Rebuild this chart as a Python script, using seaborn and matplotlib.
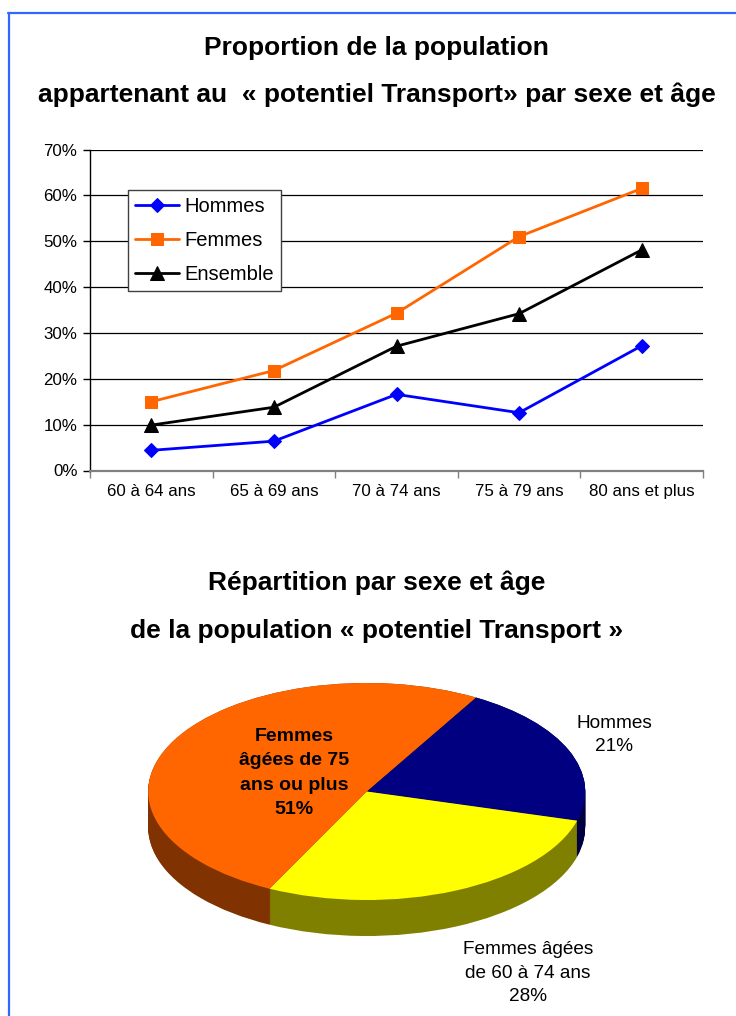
import numpy as np
import pandas as pd
import matplotlib
matplotlib.use("Agg")
import matplotlib.pyplot as plt
from matplotlib.lines import Line2D
import seaborn as sns

# ---- data -------------------------------------------------------------
ages = ["60 à 64 ans", "65 à 69 ans", "70 à 74 ans", "75 à 79 ans", "80 ans et plus"]
hommes = [4.4, 6.4, 16.6, 12.6, 27.2]
femmes = [15.0, 21.8, 34.3, 51.0, 61.5]
ensemble = [9.9, 13.8, 27.1, 34.2, 48.1]
series_names = ["Hommes", "Femmes", "Ensemble"]
y_ticks = [0, 10, 20, 30, 40, 50, 60, 70]

pie_labels = ["Hommes", "Femmes âgées\nde 60 à 74 ans", "Femmes\nâgées de 75\nans ou plus"]
pie_shares = [21, 28, 51]

title_top = ["Proportion de la population",
             "appartenant au  « potentiel Transport» par sexe et âge"]
title_pie = ["Répartition par sexe et âge",
             "de la population « potentiel Transport »"]

# ---- style ------------------------------------------------------------
sns.set_style("white")
plt.rcParams["font.family"] = ["Liberation Sans", "DejaVu Sans"]
plt.rcParams["text.color"] = "black"
plt.rcParams["xtick.color"] = "black"
plt.rcParams["ytick.color"] = "black"

W, H = 736, 1016
fig = plt.figure(figsize=(W / 100, H / 100), dpi=100)
fig.patch.set_facecolor("white")


def px_box(left, top, right, bottom):
    """Axes rectangle from pixel edges measured from the top-left corner."""
    return [left / W, 1 - bottom / H, (right - left) / W, (bottom - top) / H]


# ---- frame lines ------------------------------------------------------
frame_blue = "#3366FF"
fig.add_artist(Line2D([9 / W, 9 / W], [0, 1 - 12.5 / H], color=frame_blue,
                      lw=1.6, transform=fig.transFigure))
fig.add_artist(Line2D([8 / W, 1], [1 - 12.5 / H, 1 - 12.5 / H], color=frame_blue,
                      lw=1.6, transform=fig.transFigure))

# ---- titles -----------------------------------------------------------
title_kw = dict(ha="center", va="center", fontsize=19, fontweight="bold",
                color="black")
fig.text(376 / W, 1 - 48 / H, title_top[0], **title_kw)
fig.text(376.5 / W, 1 - 95 / H, title_top[1], **title_kw)
fig.text(377 / W, 1 - 583 / H, title_pie[0], **title_kw)
fig.text(377 / W, 1 - 631 / H, title_pie[1], **title_kw)

# ---- line chart -------------------------------------------------------
ax = fig.add_axes(px_box(90, 149.5, 703, 470.5))

df = pd.DataFrame({
    "pos": np.tile(np.arange(len(ages)), len(series_names)),
    "valeur": hommes + femmes + ensemble,
    "serie": np.repeat(series_names, len(ages)),
})

styles = {
    "Hommes": dict(color="#0000FF", marker="D", ms=6.8),
    "Femmes": dict(color="#FF6600", marker="s", ms=8.0),
    "Ensemble": dict(color="#000000", marker="^", ms=9.5),
}

for name in series_names:
    st = styles[name]
    sns.lineplot(data=df[df["serie"] == name], x="pos", y="valeur", ax=ax,
                 color=st["color"], marker=st["marker"], markersize=st["ms"],
                 markeredgecolor=st["color"], markerfacecolor=st["color"],
                 linewidth=2.0, label=name, legend=False, errorbar=None,
                 zorder=3, clip_on=False)

ax.set_xlim(-0.5, len(ages) - 0.5)
ax.set_ylim(y_ticks[0], y_ticks[-1])
ax.set_xlabel("")
ax.set_ylabel("")

ax.set_xticks(np.arange(len(ages)))
ax.set_xticklabels(ages)
ax.set_xticks(np.arange(-0.5, len(ages), 1.0), minor=True)
ax.tick_params(axis="x", which="major", length=0, pad=10, labelsize=12.2,
               labelcolor="black")
ax.tick_params(axis="x", which="minor", length=5, width=1, color="#808080",
               direction="out", bottom=True)

ax.set_yticks(y_ticks)
ax.set_yticklabels([f"{v}%" for v in y_ticks])
ax.tick_params(axis="y", length=5, width=1, color="black", direction="out",
               left=True, pad=4, labelsize=12.2, labelcolor="black")

ax.yaxis.grid(True, color="black", linewidth=0.9)
ax.set_axisbelow(True)
for side in ("top", "right"):
    ax.spines[side].set_visible(False)
ax.spines["left"].set_color("black")
ax.spines["left"].set_linewidth(1.0)
ax.spines["bottom"].set_color("#808080")
ax.spines["bottom"].set_linewidth(1.6)

leg = ax.legend(loc="upper left", bbox_to_anchor=(127.7 / W, 1 - 190 / H),
                bbox_transform=fig.transFigure, frameon=True, fancybox=False,
                edgecolor="#404040", framealpha=1, fontsize=14.5,
                handlelength=2.2, handletextpad=0.25, labelspacing=0.75,
                borderpad=0.35, borderaxespad=0)
leg.get_frame().set_linewidth(1.0)
for t in leg.get_texts():
    t.set_color("black")

# ---- 3D pie -----------------------------------------------------------
cx, cy = 366.7, 791.5          # centre of the top face (px)
rx, ry = 218.5, 108.5          # half-axes of the top face (px)
depth = 36 / ry                # thickness in data units
xl, yl = (-1.1, 1.1), (-1.5, 1.1)
pax = fig.add_axes(px_box(cx + xl[0] * rx, cy - yl[1] * ry,
                          cx + xl[1] * rx, cy - yl[0] * ry))

top_colors = ["#000080", "#FFFF00", "#FF6600"]
side_colors = ["#000040", "#808000", "#803300"]

for s in np.linspace(depth, 0, 45):
    pax.pie(pie_shares, colors=side_colors, startangle=60, counterclock=False,
            center=(0, -s), radius=1, wedgeprops=dict(linewidth=0))
pax.pie(pie_shares, colors=top_colors, startangle=60, counterclock=False,
        center=(0, 0), radius=1, wedgeprops=dict(linewidth=0))

pax.set_aspect("auto")
pax.set_xlim(xl)
pax.set_ylim(yl)
pax.axis("off")

# slice labels
fig.text(294 / W, 1 - 773 / H, f"{pie_labels[2]}\n{pie_shares[2]}%",
         ha="center", va="center", fontsize=14, fontweight="bold",
         linespacing=1.55, color="black")
fig.text(614 / W, 1 - 735 / H, f"{pie_labels[0]}\n{pie_shares[0]}%",
         ha="center", va="center", fontsize=13.7, linespacing=1.5,
         color="black")
fig.text(528 / W, 1 - 973 / H, f"{pie_labels[1]}\n{pie_shares[1]}%",
         ha="center", va="center", fontsize=13.7, linespacing=1.5,
         color="black")

fig.savefig("out.png", dpi=100)
